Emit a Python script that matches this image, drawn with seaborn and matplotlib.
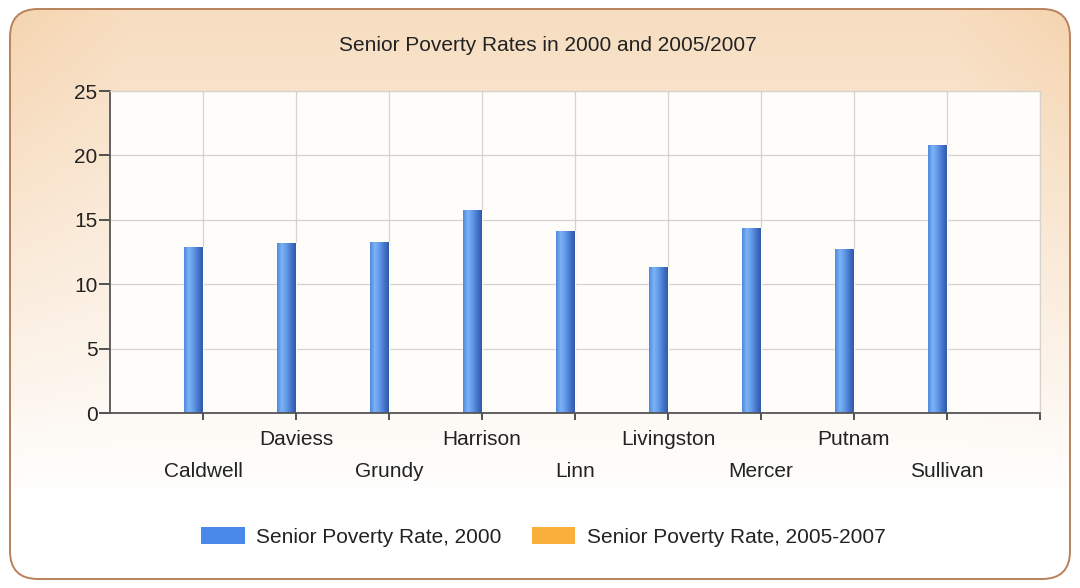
import numpy as np
import pandas as pd
import matplotlib
matplotlib.use("Agg")
import matplotlib.pyplot as plt
import seaborn as sns
from matplotlib.patches import FancyBboxPatch, Patch
from matplotlib.colors import LinearSegmentedColormap, to_rgb
from matplotlib.transforms import IdentityTransform

# ---- data ----
counties = ["Caldwell", "Daviess", "Grundy", "Harrison", "Linn",
            "Livingston", "Mercer", "Putnam", "Sullivan"]
rate_2000 = [12.9, 13.2, 13.3, 15.8, 14.1, 11.3, 14.4, 12.7, 20.8]
rate_2005_2007 = [np.nan, np.nan, np.nan, np.nan, np.nan,
                  np.nan, np.nan, np.nan, np.nan]
series_names = ["Senior Poverty Rate, 2000", "Senior Poverty Rate, 2005-2007"]
series_colors = ["#4a88ea", "#f8b03a"]
y_ticks = [0, 5, 10, 15, 20, 25]
title = "Senior Poverty Rates in 2000 and 2005/2007"

df = pd.DataFrame({
    "County": counties * 2,
    "Series": [series_names[0]] * len(counties) + [series_names[1]] * len(counties),
    "Rate": rate_2000 + rate_2005_2007,
})

sns.set_theme(style="white")
plt.rcParams["font.family"] = ["Liberation Sans", "DejaVu Sans"]

W, H = 1080, 588
fig = plt.figure(figsize=(W / 100, H / 100), dpi=100)
fig.patch.set_facecolor("white")

# ---- background panel with rounded border and peach gradient ----
ax_bg = fig.add_axes([0, 0, 1, 1], zorder=-5)
ax_bg.set_axis_off()
ny, nx = 200, 400
u = np.linspace(0, 1, ny)[:, None]
xx = np.linspace(0, 1, nx)[None, :]
h = np.clip(np.maximum(1 - xx / 0.12, 1 - (1 - xx) / 0.12), 0, 1)
t = np.clip(1 - u / 0.85, 0, 1) * (0.78 + 0.22 * h)
peach = np.array(to_rgb("#f5d3ad"))
white = np.array([1.0, 1.0, 1.0])
img = white[None, None, :] * (1 - t[..., None]) + peach[None, None, :] * t[..., None]
im_bg = ax_bg.imshow(img, extent=[0, 1, 0, 1], aspect="auto", origin="upper")
frame = FancyBboxPatch((10, 9), W - 20, H - 18,
                       boxstyle="round,pad=0,rounding_size=28",
                       transform=IdentityTransform(),
                       facecolor="none", edgecolor="#b8825c", linewidth=1.4)
ax_bg.add_patch(frame)
im_bg.set_clip_path(frame)

# ---- main axes ----
ax = fig.add_axes([0.1019, 0.2976, 0.861, 0.5476])
ax.set_facecolor("#fffdfa")
palette = dict(zip(series_names, series_colors))
sns.barplot(data=df, x="County", y="Rate", hue="Series", order=counties,
            hue_order=series_names, palette=palette, width=0.4,
            errorbar=None, saturation=1, legend=False, ax=ax)

# cylinder-like gradient on bars
bar_cmap = LinearSegmentedColormap.from_list(
    "barg", ["#5088dc", "#7eb3f7", "#619ae8", "#4676cc", "#3259a6"])
grad = np.linspace(0, 1, 64)[None, :]
for p in list(ax.patches):
    hgt = p.get_height()
    if not np.isfinite(hgt) or hgt <= 0:
        continue
    x0, y0 = p.get_x(), p.get_y()
    im = ax.imshow(grad, extent=[x0, x0 + p.get_width(), y0, y0 + hgt],
                   aspect="auto", cmap=bar_cmap, zorder=p.get_zorder() + 0.1,
                   interpolation="bilinear")
    im.set_clip_path(p)

ax.set_xlim(-1, len(counties))
ax.set_ylim(y_ticks[0], y_ticks[-1])
ax.set_yticks(y_ticks)
ax.set_xticks(range(len(counties) + 1))
ax.set_xticklabels(counties + [""])
ax.set_xlabel("")
ax.set_ylabel("")

ax.grid(True, color="#d6d3ce", linewidth=0.9)
ax.set_axisbelow(True)
for side in ("left", "bottom"):
    ax.spines[side].set_color("#555555")
    ax.spines[side].set_linewidth(1.3)
for side in ("top", "right"):
    ax.spines[side].set_color("#d6d2cc")
    ax.spines[side].set_linewidth(0.9)

ax.tick_params(axis="y", which="major", left=True, direction="out", length=8,
               width=1.3, color="#444444", labelsize=15, labelcolor="#222222",
               pad=1)
ax.tick_params(axis="x", which="major", bottom=True, direction="out", length=5,
               width=1.3, color="#444444", labelsize=15, labelcolor="#222222")
for i, tick in enumerate(ax.xaxis.get_major_ticks()):
    tick.set_pad(30 if i % 2 == 0 else 7)

fig.text(0.507, 0.923, title, ha="center", va="center", fontsize=15,
         color="#222222")

handles = [Patch(facecolor=c, edgecolor="none", label=s)
           for s, c in zip(series_names, series_colors)]
fig.legend(handles=handles, loc="center", bbox_to_anchor=(0.503, 0.087),
           ncol=2, frameon=False, fontsize=15, handlelength=2.1,
           handleheight=0.9, columnspacing=1.45, handletextpad=0.55,
           labelcolor="#222222")

fig.savefig("out.png", dpi=100)
